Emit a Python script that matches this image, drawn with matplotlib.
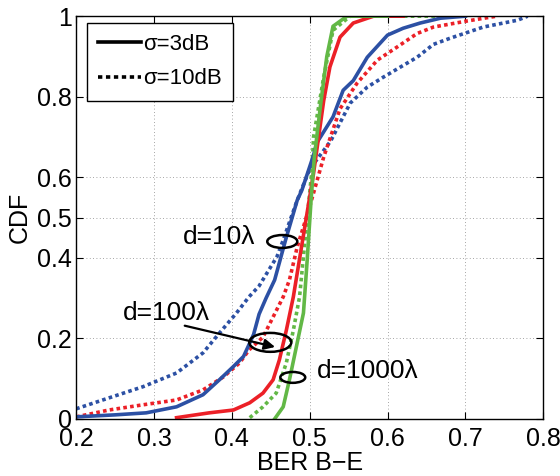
import numpy as np
import matplotlib.pyplot as plt
from matplotlib.patches import Ellipse

plt.rcParams['font.family'] = ['Liberation Sans', 'DejaVu Sans']

# d=10 lambda
blue_solid_x = [0.2, 0.25, 0.29, 0.329, 0.363, 0.384, 0.402, 0.415, 0.421, 0.428, 0.435, 0.444, 0.455,
                0.469, 0.484, 0.49, 0.505, 0.509, 0.53, 0.543, 0.556, 0.574, 0.6, 0.62, 0.642, 0.668, 0.70]
blue_solid_y = [0.005, 0.01, 0.015, 0.03, 0.06, 0.097, 0.13, 0.155, 0.18, 0.21, 0.26, 0.30, 0.345,
                0.444, 0.543, 0.568, 0.655, 0.685, 0.75, 0.816, 0.84, 0.898, 0.953, 0.97, 0.983, 0.995, 1.0]
blue_dash_x = [0.2, 0.242, 0.286, 0.329, 0.363, 0.384, 0.406, 0.422, 0.435, 0.458, 0.466, 0.475, 0.484,
               0.5, 0.527, 0.552, 0.574, 0.595, 0.616, 0.638, 0.659, 0.68, 0.723, 0.767, 0.78]
blue_dash_y = [0.025, 0.052, 0.08, 0.114, 0.164, 0.213, 0.263, 0.303, 0.33, 0.403, 0.444, 0.494, 0.543,
               0.62, 0.69, 0.784, 0.824, 0.849, 0.873, 0.898, 0.93, 0.945, 0.973, 0.99, 1.0]
# d=100 lambda
red_solid_x = [0.329, 0.371, 0.402, 0.423, 0.44, 0.453, 0.461, 0.47, 0.479, 0.484, 0.498, 0.505,
               0.518, 0.526, 0.539, 0.556, 0.582, 0.62]
red_solid_y = [0.003, 0.015, 0.022, 0.04, 0.064, 0.097, 0.146, 0.22, 0.303, 0.362, 0.527, 0.61,
               0.79, 0.874, 0.948, 0.983, 1.0, 1.0]
red_dash_x = [0.2, 0.242, 0.286, 0.329, 0.363, 0.389, 0.41, 0.422, 0.44, 0.453, 0.466, 0.474, 0.484,
              0.5, 0.518, 0.539, 0.561, 0.587, 0.612, 0.638, 0.659, 0.702, 0.74]
red_dash_y = [0.005, 0.022, 0.035, 0.047, 0.072, 0.104, 0.139, 0.171, 0.203, 0.253, 0.303, 0.345, 0.427,
              0.527, 0.65, 0.77, 0.834, 0.891, 0.923, 0.957, 0.973, 0.988, 1.0]
# d=1000 lambda
green_solid_x = [0.455, 0.466, 0.474, 0.483, 0.492, 0.497, 0.502, 0.506, 0.514, 0.522, 0.53, 0.548, 0.6]
green_solid_y = [0.0, 0.03, 0.097, 0.18, 0.263, 0.4, 0.55, 0.65, 0.78, 0.9, 0.975, 1.0, 1.0]
green_dash_x = [0.423, 0.44, 0.457, 0.47, 0.479, 0.487, 0.494, 0.503, 0.505, 0.518, 0.53, 0.552, 0.68]
green_dash_y = [0.003, 0.03, 0.064, 0.139, 0.22, 0.303, 0.444, 0.62, 0.7, 0.849, 0.965, 1.0, 1.0]

blue = '#2C50A4'
red = '#EC2027'
green = '#62B846'
dots = (0, (1.0, 0.9))
lw = 2.6

fig = plt.figure(figsize=(5.6, 4.76), dpi=100)
ax = fig.add_axes([0.136, 0.120, 0.834, 0.846])

ax.plot(blue_dash_x, blue_dash_y, color=blue, lw=lw, ls=dots)
ax.plot(red_dash_x, red_dash_y, color=red, lw=lw, ls=dots)
ax.plot(green_dash_x, green_dash_y, color=green, lw=lw, ls=dots)
ax.plot(blue_solid_x, blue_solid_y, color=blue, lw=lw)
ax.plot(red_solid_x, red_solid_y, color=red, lw=lw)
ax.plot(green_solid_x, green_solid_y, color=green, lw=lw)

# legend handles
h1, = ax.plot([], [], color='k', lw=2.6, label='σ=3dB')
h2, = ax.plot([], [], color='k', lw=2.6, ls=(0, (1.2, 1.0)), label='σ=10dB')
leg = ax.legend(handles=[h1, h2], loc='upper left', bbox_to_anchor=(0.0236, 0.983),
                borderaxespad=0, fancybox=False, framealpha=1, edgecolor='k',
                fontsize=16, handlelength=1.9, handletextpad=0.1, borderpad=0.5,
                labelspacing=0.6)
leg.get_frame().set_linewidth(1.0)

# annotations
for cx, cy, w, h in [(0.4648, 0.4405, 0.0386, 0.032), (0.4494, 0.19, 0.054, 0.047),
                     (0.4783, 0.103, 0.032, 0.027)]:
    ax.add_patch(Ellipse((cx, cy), w, h, fill=False, ec='k', lw=1.8, zorder=5))
ax.text(0.384, 0.452, 'd=10λ', fontsize=19, ha='center', va='center')
ax.text(0.316, 0.263, 'd=100λ', fontsize=19, ha='center', va='center')
ax.text(0.574, 0.119, 'd=1000λ', fontsize=19, ha='center', va='center')
ax.annotate('', xy=(0.459, 0.177), xytext=(0.336, 0.233),
            arrowprops=dict(arrowstyle='-|>', color='k', lw=1.6, mutation_scale=16))

ax.set_xlim(0.2, 0.8)
ax.set_ylim(0, 1)
ax.set_xticks([0.2, 0.3, 0.4, 0.5, 0.6, 0.7, 0.8])
ax.set_xticklabels(['0.2', '0.3', '0.4', '0.5', '0.6', '0.7', '0.8'])
ax.set_yticks([0, 0.2, 0.4, 0.5, 0.6, 0.8, 1])
ax.set_yticklabels(['0', '0.2', '0.4', '0.5', '0.6', '0.8', '1'])
ax.tick_params(direction='in', length=5, width=0.8, labelsize=18, top=True, right=True)
ax.tick_params(axis='x', pad=6)
ax.tick_params(axis='y', pad=3)
ax.grid(True, color='#888888', ls=(0, (1, 3)), lw=0.6)
for s in ax.spines.values():
    s.set_linewidth(1.0)
ax.set_xlabel('BER B−E', fontsize=18, labelpad=0)
ax.set_ylabel('CDF', fontsize=18, labelpad=4)

fig.savefig('out.png', dpi=100)
